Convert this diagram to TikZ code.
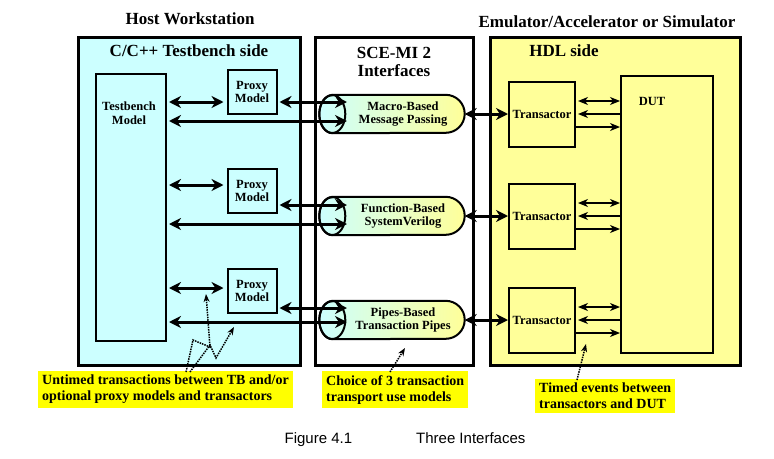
\documentclass[tikz,border=0pt]{standalone}
\usepackage{fontspec}
\setmainfont{Liberation Serif}
\newfontfamily\capfont{Liberation Sans}
\usetikzlibrary{arrows.meta}
\definecolor{hostcyan}{RGB}{204,255,255}
\definecolor{hdlyellow}{RGB}{255,255,153}
\definecolor{notebg}{RGB}{255,255,0}
\tikzset{
  panel/.style={draw, line width=3pt},
  lbl/.style={font=\bfseries\fontsize{12.5}{13.5}\selectfont, align=center, inner sep=0pt},
  blk/.style={lbl, draw, line width=2pt},
  big/.style={line width=3pt, {Stealth[length=12pt,width=12pt]}-{Stealth[length=12pt,width=12pt]}},
  thin/.style={line width=1.2pt},
  tip/.style={-{Stealth[length=10pt,width=8pt,inset=3pt]}},
  both/.style={{Stealth[length=10pt,width=8pt,inset=3pt]}-{Stealth[length=10pt,width=8pt,inset=3pt]}},
  note/.style={fill=notebg, font=\bfseries\fontsize{14}{16}\selectfont, align=left, inner sep=4pt, anchor=north west},
  ttl/.style={font=\bfseries\fontsize{17}{18}\selectfont, align=center},
  dots/.style={densely dotted, line width=1.5pt, -{Stealth[length=8pt,width=6pt]}}
}
\begin{document}
\begin{tikzpicture}[x=1pt,y=-1pt]
  \useasboundingbox[fill=white] (0,0) rectangle (774,458);
  \node[ttl] (host) at (190,19) {Host Workstation};
  \node[ttl] (emu) at (607,22) {Emulator/Accelerator or Simulator};
  \draw[panel, fill=hostcyan] (78,37) rectangle (300,365);
  \draw[panel, fill=white] (315,37) rectangle (473,365);
  \draw[panel, fill=hdlyellow] (490,37) rectangle (740,365);
  \node[ttl] (tbside) at (189,51) {C/C++ Testbench side};
  \node[ttl] (sce) at (394,62) {SCE-MI 2\\Interfaces};
  \node[ttl] (hdl) at (564,51) {HDL side};
  \node[blk, minimum width=70, minimum height=267, anchor=north west] (tb) at (95,73) {};
  \node[lbl] (tbl) at (129,113) {Testbench\\Model};
  \node[blk, minimum width=92, minimum height=277, anchor=north west] (dut) at (620,75) {};
  \node[lbl] (dutl) at (652,101) {DUT};
  \foreach \i/\py/\ra/\rb/\rc/\cy/\txt in {1/92/102/102/121/114/{Macro-Based\\Message Passing},
      2/191/185/205/224/216/{Function-Based\\SystemVerilog}, 3/291/288/308/322/320/{Pipes-Based\\Transaction Pipes}}{
    \node[blk, fill=hostcyan, minimum width=49, minimum height=44] (px\i) at (252,\py) {Proxy\\Model};
    \node[minimum width=145, minimum height=38, inner sep=0pt] (cy\i) at (392,\cy) {};
    \shade[left color=hostcyan, right color=hdlyellow, draw, line width=2pt]
      ([xshift=13]cy\i.north west) -- ([xshift=-19]cy\i.north east) arc(-90:90:19)
      -- ([xshift=13]cy\i.south west) arc(90:270:13 and 19) -- cycle;
    \draw[line width=2pt] ([xshift=13]cy\i.west) ellipse (13 and 19);
    \node[lbl] (cyl\i) at (403,\cy) {\txt};
    \node[blk, fill=hdlyellow, minimum width=66, minimum height=65] (tr\i) at (542,\cy) {Transactor};
    \coordinate (ra\i) at (0,\ra);
    \coordinate (rb\i) at (0,\rb);
    \coordinate (rc\i) at (0,\rc);
    \coordinate (ce\i) at (347,\cy);
    \draw[big] ([xshift=2]tb.east |- ra\i) -- ([xshift=-3]px\i.west |- ra\i);
    \draw[big] ([xshift=2]px\i.east |- rb\i) -- (ce\i |- rb\i);
    \draw[big] ([xshift=2]tb.east |- rc\i) -- (ce\i |- rc\i);
    \draw[big] (cy\i.east) -- (tr\i.west);
    \draw[thin, tip] ([yshift=-13]tr\i.east) -- ([yshift=-13]tr\i.east -| dut.west);
    \draw[thin, tip] (tr\i.east -| dut.west) -- ([xshift=2]tr\i.east);
    \draw[thin, both] ([xshift=2,yshift=13]tr\i.east) -- ([yshift=13]tr\i.east -| dut.west);
  }
  \node[note] (n1) at (38,371) {Untimed transactions between TB and/or\\optional proxy models and transactors};
  \node[note] (n2) at (322,371) {Choice of 3 transaction\\transport use models};
  \node[note] (n3) at (535,379) {Timed events between\\transactors and DUT};
  \coordinate (d1) at (186,372);
  \coordinate (d2) at (190,372);
  \draw[dots] (d1) -- (193,340) -- (210,347) -- (206,294);
  \draw[dots] (d2) -- (210,345) -- (216,358) -- (234,327);
  \draw[dots] (390,372) -- (405,348);
  \draw[dots] (577,380) -- (586,344);
  \node[font=\capfont\fontsize{15}{16}\selectfont] (cap) at (405,440) {Figure 4.1\hspace{64pt}Three Interfaces};
\end{tikzpicture}
\end{document}
